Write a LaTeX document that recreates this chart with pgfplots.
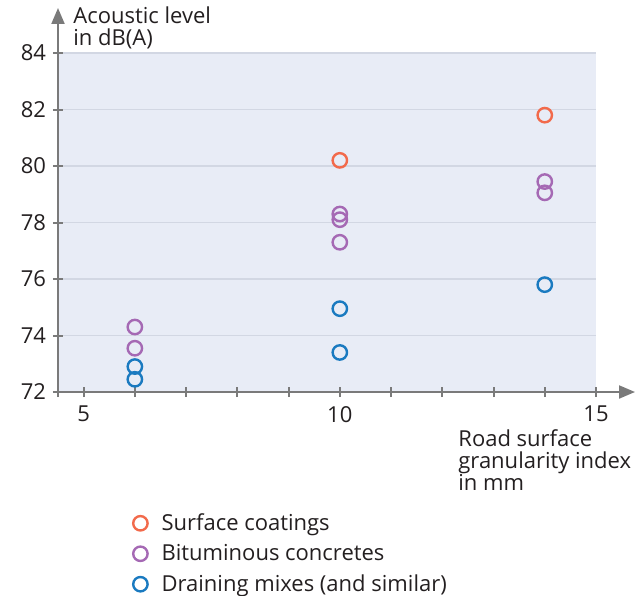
\documentclass[border=0pt]{standalone}
\usepackage{fontspec}
\setmainfont{Open Sans}
\usepackage{pgfplots}
\pgfplotsset{compat=1.18}
\usetikzlibrary{arrows.meta}

\definecolor{bgblue}{HTML}{E8ECF6}
\definecolor{gridc}{HTML}{D2D7E3}
\definecolor{axgray}{HTML}{7A7A7A}
\definecolor{txt}{HTML}{231F20}
\definecolor{coat}{HTML}{F26A4B}
\definecolor{bitu}{HTML}{A569B4}
\definecolor{drain}{HTML}{1A7AC0}

\begin{document}
\begin{tikzpicture}[font=\fontsize{11}{11}\selectfont, text=txt]
\useasboundingbox (-29pt,-101.5pt) rectangle (291pt,196pt);
\begin{axis}[
    at={(0,0)}, anchor=south west,
    scale only axis,
    width=269pt, height=169.5pt,
    xmin=4.5, xmax=15, ymin=72, ymax=84,
    axis line style={draw=none},
    axis background/.style={fill=bgblue},
    xtick={5,...,15},
    xticklabels={5,,,,,10,,,,,15},
    ytick={72,74,...,84},
    ymajorgrids=true,
    grid style={gridc, line width=0.6pt},
    tick align=center,
    major tick length=5pt,
    tick style={axgray, line width=1pt},
    xtick pos=bottom, ytick pos=left,
    /pgf/number format/assume math mode=true,
    ticklabel style={font=\fontsize{11}{11}\selectfont, text=txt},
    xticklabel style={yshift=-1pt},
    clip=false,
    legend style={draw=none, fill=none, at={(0.139,-0.345)}, anchor=north west,
        font=\fontsize{11}{11}\selectfont, row sep=1.5pt, column sep=5pt, inner sep=0pt},
    legend cell align=left,
    every axis plot/.append style={only marks, mark=o, mark size=3.6pt, line width=1.2pt},
]
\addplot[coat] coordinates {(10,80.2) (14,81.8)};
\addplot[bitu] coordinates {(6,74.3) (6,73.55) (10,78.3) (10,78.1) (10,77.3) (14,79.45) (14,79.05)};
\addplot[drain] coordinates {(6,72.9) (6,72.45) (10,74.95) (10,73.4) (14,75.8)};
\legend{Surface coatings, Bituminous concretes, Draining mixes (and similar)}
\end{axis}
\draw[axgray, line width=1pt, -{Triangle[width=6.5pt,length=8pt]}] (0,-2.5pt) -- (0,192pt);
\draw[axgray, line width=1pt, -{Triangle[width=6.5pt,length=8pt]}] (-2.5pt,0) -- (288.5pt,0);
\node[anchor=north west, align=left, inner sep=0pt] at (7.5pt,193pt) {Acoustic level\\in dB(A)};
\node[anchor=north west, align=left, inner sep=0pt] at (200pt,-18.5pt) {Road surface\\granularity index\\in mm};
\end{tikzpicture}
\end{document}
